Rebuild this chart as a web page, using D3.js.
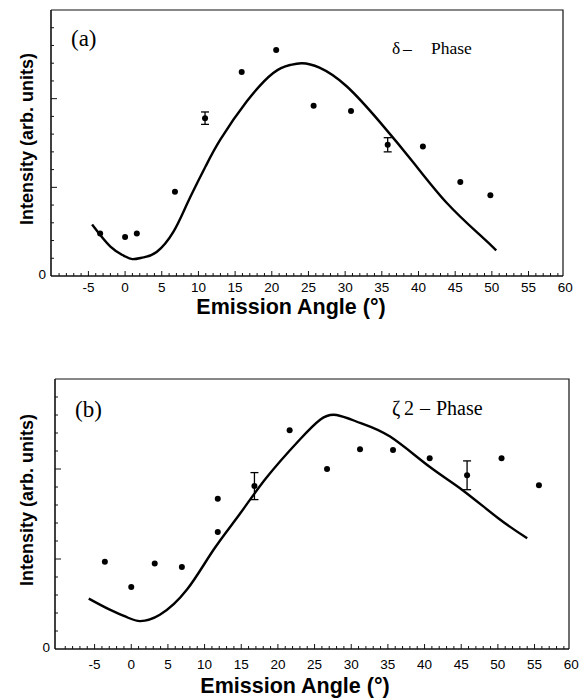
<!DOCTYPE html>
<html>
<head>
<meta charset="utf-8">
<script src="https://cdn.jsdelivr.net/npm/d3@7"></script>
<style>
  body { margin: 0; background: #fff; }
  svg { display: block; }
</style>
</head>
<body>
<div id="chart"></div>
<script>
// x tick labels shared by both panels
const xTickLabels = [-5, 0, 5, 10, 15, 20, 25, 30, 35, 40, 45, 50, 55, 60];

// panel (a): delta phase
const aAngles = [-3.4, 0, 1.6, 6.8, 10.9, 15.9, 20.6, 25.7, 30.8, 35.8, 40.6, 45.7, 49.8];
const aIntensity = [0.48, 0.44, 0.48, 0.95, 1.78, 2.30, 2.55, 1.92, 1.86, 1.48, 1.46, 1.06, 0.91];
const aErrors = [0, 0, 0, 0, 0.07, 0, 0, 0, 0, 0.08, 0, 0, 0];
const aCurveAngles = [-4.5, -2, -0.2, 1, 2.5, 4.3, 6.6, 8.6, 11, 13, 16.6, 20.2, 22.5, 24.1, 26.5, 30.2, 34.8, 39.3, 43.9, 48.4, 50.6];
const aCurveIntensity = [0.58, 0.33, 0.23, 0.19, 0.21, 0.27, 0.50, 0.84, 1.24, 1.54, 1.97, 2.29, 2.38, 2.40, 2.35, 2.14, 1.73, 1.28, 0.82, 0.46, 0.29];

// panel (b): zeta2 phase
const bAngles = [-3.6, 0, 3.2, 6.9, 11.8, 11.8, 16.8, 21.6, 26.7, 31.2, 35.7, 40.7, 45.8, 50.5, 55.6];
const bIntensity = [0.97, 0.69, 0.95, 0.91, 1.67, 1.30, 1.81, 2.43, 2.00, 2.22, 2.21, 2.12, 1.93, 2.12, 1.82];
const bErrors = [0, 0, 0, 0, 0, 0, 0.15, 0, 0, 0, 0, 0, 0.16, 0, 0];
const bCurveAngles = [-5.8, -3.0, -0.5, 1.2, 3.9, 7.6, 11.2, 14.8, 18.4, 22.9, 25.8, 28.0, 31.3, 35.3, 40.6, 45.1, 50.1, 54.0];
const bCurveIntensity = [0.56, 0.44, 0.35, 0.31, 0.38, 0.66, 1.10, 1.50, 1.90, 2.32, 2.55, 2.60, 2.51, 2.36, 2.03, 1.77, 1.45, 1.23];

const W = 579, H = 698;
const sans = 'Liberation Sans, Arial, sans-serif';
const serif = 'Liberation Serif, Times New Roman, serif';

const svg = d3.select('#chart').append('svg')
    .attr('width', W)
    .attr('height', H);

function drawPanel(p) {
    const x = d3.scaleLinear().domain(p.xDomain).range([p.left, p.right]);
    const y = d3.scaleLinear().domain([0, 3]).range([p.bottom, p.top]);
    const g = svg.append('g');

    // frame top + right
    g.append('path')
        .attr('d', `M${p.left},${p.top}H${p.right}V${p.bottom}`)
        .attr('fill', 'none')
        .attr('stroke', '#111')
        .attr('stroke-width', 1.2);

    // x axis, inward ticks: minor every 1, major every 5
    g.append('line')
        .attr('x1', p.left).attr('x2', p.right)
        .attr('y1', p.bottom).attr('y2', p.bottom)
        .attr('stroke', '#111').attr('stroke-width', 1.6);
    g.selectAll('.xtick')
        .data(d3.range(-9, 60))
        .join('line')
        .attr('x1', d => x(d)).attr('x2', d => x(d))
        .attr('y1', p.bottom)
        .attr('y2', d => p.bottom - (d % 5 === 0 ? 5 : 3))
        .attr('stroke', '#111').attr('stroke-width', 1);
    g.selectAll('.xlab')
        .data(xTickLabels)
        .join('text')
        .attr('x', d => x(d))
        .attr('y', p.bottom + p.labDy)
        .attr('text-anchor', 'middle')
        .attr('font-family', sans)
        .attr('font-size', 13.5)
        .text(d => d);

    // y axis: minor every 0.2, major every 1
    g.append('line')
        .attr('x1', p.left).attr('x2', p.left)
        .attr('y1', p.top).attr('y2', p.bottom)
        .attr('stroke', '#111').attr('stroke-width', 1.6);
    g.selectAll('.ytick')
        .data(d3.range(1, 15))
        .join('line')
        .attr('x1', p.left)
        .attr('x2', d => p.left + (d % 5 === 0 ? 6 : 3))
        .attr('y1', d => y(d * 0.2)).attr('y2', d => y(d * 0.2))
        .attr('stroke', '#111').attr('stroke-width', 1);
    g.append('text')
        .attr('x', p.left - 5)
        .attr('y', y(0) + 3)
        .attr('text-anchor', 'end')
        .attr('font-family', sans)
        .attr('font-size', 13.5)
        .text('0');

    // axis titles
    g.append('text')
        .attr('transform', `translate(33,${p.yTitleY}) rotate(-90)`)
        .attr('text-anchor', 'middle')
        .attr('font-family', sans)
        .attr('font-weight', 'bold')
        .attr('font-size', 18)
        .text('Intensity (arb. units)');
    g.append('text')
        .attr('x', p.left + 240)
        .attr('y', p.bottom + p.titleDy)
        .attr('text-anchor', 'middle')
        .attr('font-family', sans)
        .attr('font-weight', 'bold')
        .attr('font-size', 21.5)
        .text('Emission Angle (°)');

    // theory curve
    const line = d3.line()
        .x(d => x(d[0]))
        .y(d => y(d[1]))
        .curve(d3.curveNatural);
    g.append('path')
        .datum(d3.zip(p.curveX, p.curveY))
        .attr('d', line)
        .attr('fill', 'none')
        .attr('stroke', '#000')
        .attr('stroke-width', 2.4);

    // measured points with error bars
    const pts = d3.zip(p.px, p.py, p.err);
    const eb = g.selectAll('.err')
        .data(pts.filter(d => d[2] > 0))
        .join('g')
        .attr('stroke', '#000').attr('stroke-width', 1.3);
    eb.append('line')
        .attr('x1', d => x(d[0])).attr('x2', d => x(d[0]))
        .attr('y1', d => y(d[1] - d[2])).attr('y2', d => y(d[1] + d[2]));
    eb.append('line')
        .attr('x1', d => x(d[0]) - 4).attr('x2', d => x(d[0]) + 4)
        .attr('y1', d => y(d[1] + d[2])).attr('y2', d => y(d[1] + d[2]));
    eb.append('line')
        .attr('x1', d => x(d[0]) - 4).attr('x2', d => x(d[0]) + 4)
        .attr('y1', d => y(d[1] - d[2])).attr('y2', d => y(d[1] - d[2]));
    g.selectAll('.pt')
        .data(pts)
        .join('circle')
        .attr('cx', d => x(d[0]))
        .attr('cy', d => y(d[1]))
        .attr('r', 3)
        .attr('fill', '#000');

    // panel letter
    g.append('text')
        .attr('x', p.left + 20)
        .attr('y', p.top + p.letterDy)
        .attr('font-family', serif)
        .attr('font-size', 23)
        .text(p.letter);

    // phase label, pieces placed separately to keep the wide spacing
    const lab = g.append('text')
        .attr('y', p.top + p.labelDy)
        .attr('font-family', serif)
        .attr('font-size', p.labelSize);
    lab.selectAll('tspan')
        .data(p.phase)
        .join('tspan')
        .attr('x', d => d[0])
        .text(d => d[1]);
}

drawPanel({
    left: 51, right: 563, top: 10, bottom: 276, xDomain: [-10.1, 59.7],
    curveX: aCurveAngles, curveY: aCurveIntensity,
    px: aAngles, py: aIntensity, err: aErrors,
    labDy: 16, titleDy: 38, yTitleY: 139,
    letter: '(a)', letterDy: 36,
    phase: [[392, 'δ'], [403, '–'], [431, 'Phase']], labelDy: 44, labelSize: 17.5
});
drawPanel({
    left: 55, right: 569, top: 379, bottom: 649, xDomain: [-10.4, 59.7],
    curveX: bCurveAngles, curveY: bCurveIntensity,
    px: bAngles, py: bIntensity, err: bErrors,
    labDy: 20, titleDy: 44, yTitleY: 500,
    letter: '(b)', letterDy: 38,
    phase: [[392, 'ζ'], [404, '2'], [420, '–'], [436, 'Phase']], labelDy: 36, labelSize: 20
});
</script>
</body>
</html>
